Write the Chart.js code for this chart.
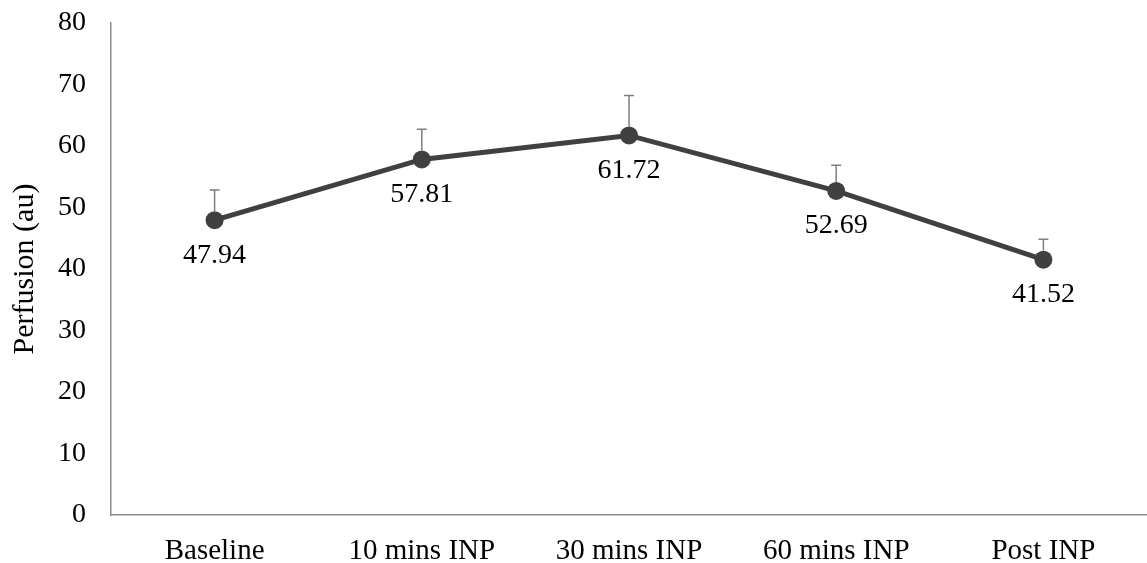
<!DOCTYPE html>
<html>
<head>
<meta charset="utf-8">
<script src="https://cdn.jsdelivr.net/npm/chart.js@4"></script>
<style>
  html, body { margin: 0; padding: 0; background: #fff; }
  #wrap { width: 1147px; height: 563px; }
</style>
</head>
<body>
<div id="wrap"><canvas id="chart"></canvas></div>
<script>
// data
var categories = ['Baseline', '10 mins INP', '30 mins INP', '60 mins INP', 'Post INP'];
var perfusion = [47.94, 57.81, 61.72, 52.69, 41.52];
var errorUp = [4.9, 4.9, 6.5, 4.2, 3.3];
var yTicks = [0, 10, 20, 30, 40, 50, 60, 70, 80];

var serif = '"Liberation Serif", "Times New Roman", serif';

// error bars (upper only) + value labels under the points
var extras = {
  id: 'extras',
  afterDatasetsDraw: function(chart) {
    var ctx = chart.ctx;
    var xs = chart.scales.x, ys = chart.scales.y;
    ctx.save();
    ctx.strokeStyle = '#7f7f7f';
    ctx.lineWidth = 1.5;
    for (var i = 0; i < perfusion.length; i++) {
      var x = xs.getPixelForValue(i);
      var y0 = ys.getPixelForValue(perfusion[i]);
      var y1 = ys.getPixelForValue(perfusion[i] + errorUp[i]);
      ctx.beginPath();
      ctx.moveTo(x, y0 - 9);
      ctx.lineTo(x, y1);
      ctx.moveTo(x - 5, y1);
      ctx.lineTo(x + 5, y1);
      ctx.stroke();
    }
    ctx.fillStyle = '#000';
    ctx.font = '28px ' + serif;
    ctx.textAlign = 'center';
    ctx.textBaseline = 'middle';
    for (var j = 0; j < perfusion.length; j++) {
      var px = xs.getPixelForValue(j);
      var py = ys.getPixelForValue(perfusion[j]);
      ctx.fillText(perfusion[j].toFixed(2), px, py + 35);
    }
    ctx.restore();
  }
};

new Chart(document.getElementById('chart'), {
  type: 'line',
  data: {
    labels: categories,
    datasets: [{
      data: perfusion,
      borderColor: '#404040',
      backgroundColor: '#404040',
      borderWidth: 5,
      pointRadius: 9,
      pointHoverRadius: 9,
      pointBorderWidth: 0,
      tension: 0,
      clip: false
    }]
  },
  options: {
    responsive: true,
    maintainAspectRatio: false,
    animation: false,
    layout: { autoPadding: false, padding: { top: 23, right: 0, left: 0, bottom: 0 } },
    plugins: { legend: { display: false }, tooltip: { enabled: false } },
    scales: {
      x: {
        offset: true,
        grid: { display: false, drawTicks: false },
        border: { color: '#8c8c8c', width: 1.5 },
        ticks: { color: '#000', font: { family: serif, size: 29 }, padding: 19, maxRotation: 0 },
        afterFit: function(s) { s.height = 48; s.paddingLeft = 0; s.paddingRight = 0; }
      },
      y: {
        min: 0,
        max: 80,
        afterBuildTicks: function(s) { s.ticks = yTicks.map(function(v) { return { value: v }; }); },
        grid: { display: false, drawTicks: false },
        border: { color: '#8c8c8c', width: 1.5 },
        ticks: { color: '#000', font: { family: serif, size: 28 }, padding: 25 },
        title: { display: true, text: 'Perfusion (au)', color: '#000', font: { family: serif, size: 30 }, padding: { top: 7, bottom: 0 } },
        afterFit: function(s) { s.width = 111; s.paddingTop = 0; s.paddingBottom = 0; }
      }
    }
  },
  plugins: [extras]
});
</script>
</body>
</html>
